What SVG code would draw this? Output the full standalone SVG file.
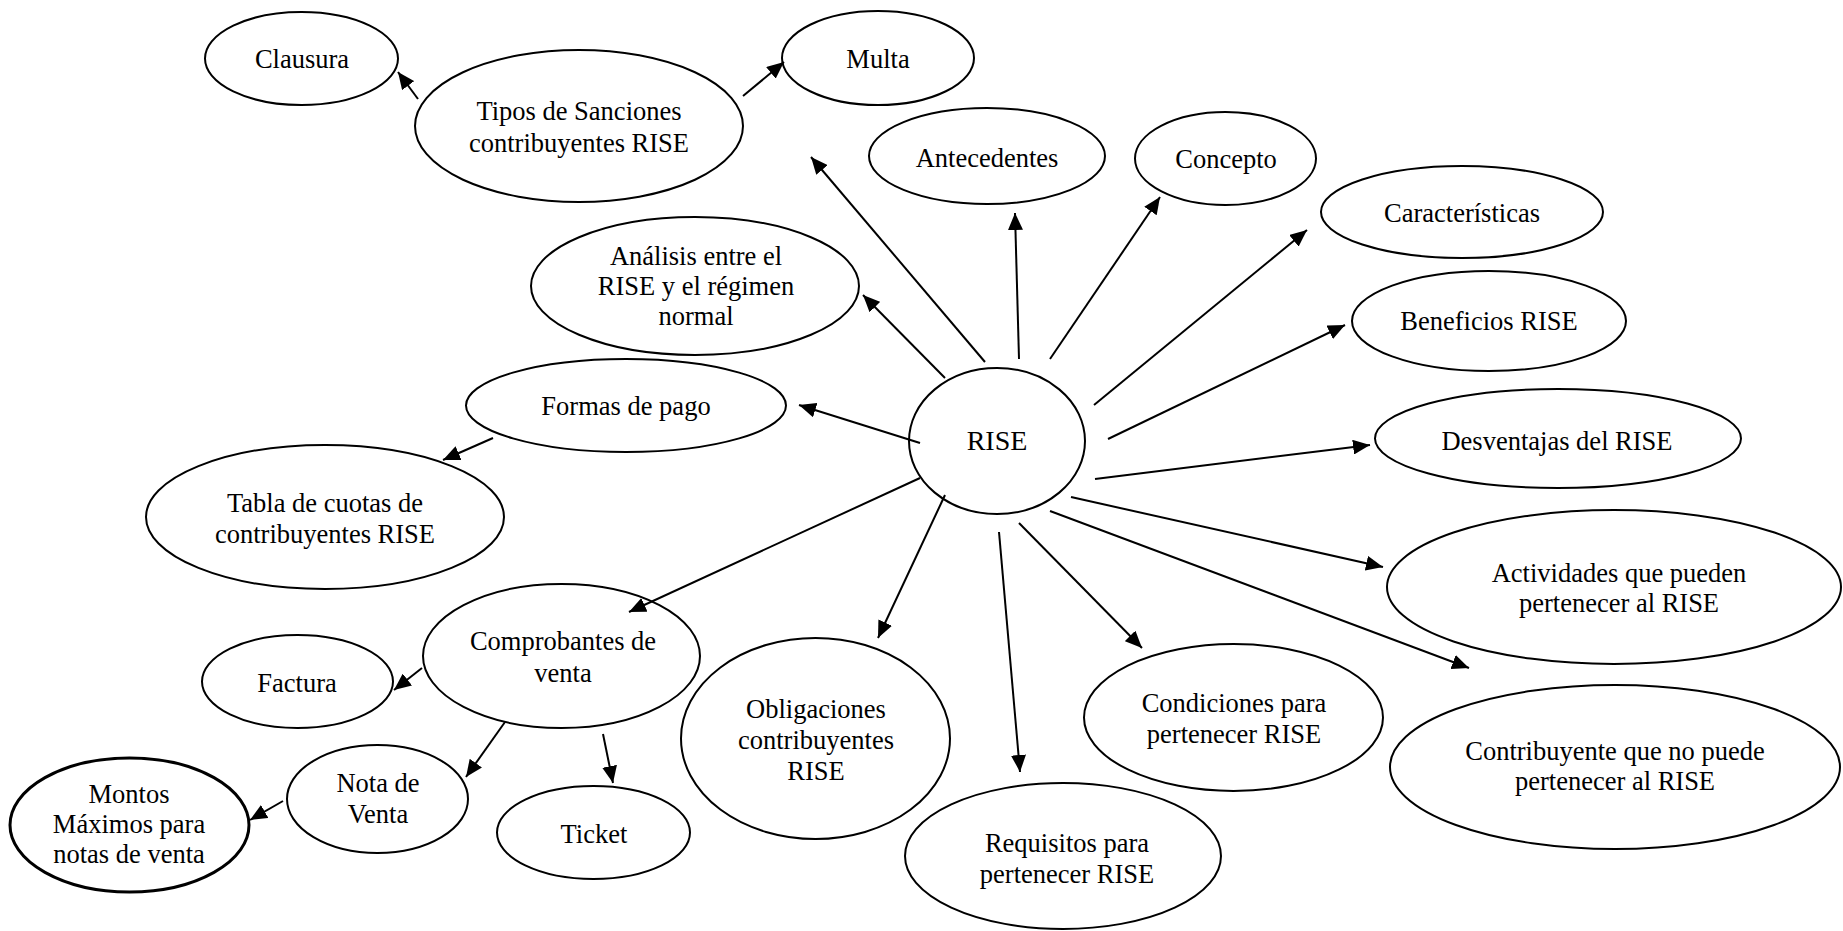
<svg xmlns="http://www.w3.org/2000/svg" width="1843" height="931" viewBox="0 0 1843 931">
<style>
.n ellipse{fill:#fff;stroke:#000;stroke-width:2}
.n text{font-family:"Liberation Serif","Times New Roman",serif;font-size:26.5px;fill:#000;text-anchor:middle}
#edges line{stroke:#000;stroke-width:2;marker-end:url(#ah)}
</style>
<defs>
<marker id="ah" markerUnits="userSpaceOnUse" markerWidth="17" markerHeight="15" refX="17" refY="7.5" orient="auto">
<path d="M0,0 L17,7.5 L0,15 z" fill="#000"/>
</marker>
</defs>
<rect width="1843" height="931" fill="#fff"/>
<g id="rise" class="n"><ellipse cx="997" cy="441" rx="88" ry="73"/><text x="997" y="450" style="font-size:28px">RISE</text></g>
<g id="tipos" class="n"><ellipse cx="579" cy="126" rx="164" ry="76"/><text x="579" y="120">Tipos de Sanciones</text><text x="579" y="152">contribuyentes RISE</text></g>
<g id="clausura" class="n"><ellipse cx="301.5" cy="58.5" rx="96.5" ry="46.5"/><text x="302" y="68">Clausura</text></g>
<g id="multa" class="n"><ellipse cx="878" cy="58" rx="96" ry="47"/><text x="878" y="68">Multa</text></g>
<g id="antecedentes" class="n"><ellipse cx="987" cy="156" rx="118" ry="48"/><text x="987" y="167">Antecedentes</text></g>
<g id="concepto" class="n"><ellipse cx="1225.5" cy="158.5" rx="90.5" ry="46.5"/><text x="1226" y="168">Concepto</text></g>
<g id="caracteristicas" class="n"><ellipse cx="1462" cy="212" rx="141" ry="46"/><text x="1462" y="222">Características</text></g>
<g id="analisis" class="n"><ellipse cx="695" cy="286" rx="164" ry="69"/><text x="696" y="265">Análisis entre el</text><text x="696" y="295">RISE y el régimen</text><text x="696" y="325">normal</text></g>
<g id="beneficios" class="n"><ellipse cx="1489" cy="321" rx="137" ry="50"/><text x="1489" y="330">Beneficios RISE</text></g>
<g id="formas" class="n"><ellipse cx="626" cy="405.5" rx="160" ry="46.5"/><text x="626" y="415">Formas de pago</text></g>
<g id="desventajas" class="n"><ellipse cx="1558" cy="438.5" rx="183" ry="49.5"/><text x="1557" y="450">Desventajas del RISE</text></g>
<g id="tabla" class="n"><ellipse cx="325" cy="517" rx="179" ry="72"/><text x="325" y="512">Tabla de cuotas de</text><text x="325" y="543">contribuyentes RISE</text></g>
<g id="actividades" class="n"><ellipse cx="1614" cy="587" rx="227" ry="77"/><text x="1619" y="582">Actividades que pueden</text><text x="1619" y="612">pertenecer al RISE</text></g>
<g id="comprobantes" class="n"><ellipse cx="561.5" cy="656" rx="138.5" ry="72"/><text x="563" y="650">Comprobantes de</text><text x="563" y="682">venta</text></g>
<g id="factura" class="n"><ellipse cx="297.5" cy="681.5" rx="95.5" ry="46.5"/><text x="297" y="692">Factura</text></g>
<g id="obligaciones" class="n"><ellipse cx="815.5" cy="738.5" rx="134.5" ry="100.5"/><text x="816" y="718">Obligaciones</text><text x="816" y="749">contribuyentes</text><text x="816" y="780">RISE</text></g>
<g id="condiciones" class="n"><ellipse cx="1233.5" cy="717.5" rx="149.5" ry="73.5"/><text x="1234" y="712">Condiciones para</text><text x="1234" y="743">pertenecer RISE</text></g>
<g id="contribuyente" class="n"><ellipse cx="1615" cy="767" rx="225" ry="82"/><text x="1615" y="760">Contribuyente que no puede</text><text x="1615" y="790">pertenecer al RISE</text></g>
<g id="nota" class="n"><ellipse cx="377.5" cy="799" rx="90.5" ry="54"/><text x="378" y="792">Nota de</text><text x="378" y="823">Venta</text></g>
<g id="ticket" class="n"><ellipse cx="593.5" cy="832.5" rx="96.5" ry="46.5"/><text x="594" y="843">Ticket</text></g>
<g id="montos" class="n"><ellipse cx="129.5" cy="825" rx="119.5" ry="67" style="stroke-width:3"/><text x="129" y="803">Montos</text><text x="129" y="833">Máximos para</text><text x="129" y="863">notas de venta</text></g>
<g id="requisitos" class="n"><ellipse cx="1063" cy="856" rx="158" ry="73"/><text x="1067" y="852">Requisitos para</text><text x="1067" y="883">pertenecer RISE</text></g>
<g id="edges">
<line x1="985" y1="362" x2="811" y2="157"/>
<line x1="945" y1="378" x2="863" y2="295"/>
<line x1="920" y1="443" x2="799" y2="405"/>
<line x1="493" y1="438" x2="443" y2="460"/>
<line x1="418" y1="99" x2="398" y2="72"/>
<line x1="743" y1="96" x2="784" y2="62"/>
<line x1="1019" y1="359" x2="1015" y2="213"/>
<line x1="1050" y1="359" x2="1160" y2="197"/>
<line x1="1094" y1="405" x2="1307" y2="230"/>
<line x1="1108" y1="439" x2="1345" y2="325"/>
<line x1="1095" y1="479" x2="1370" y2="445"/>
<line x1="1071" y1="497" x2="1383" y2="567"/>
<line x1="1050" y1="511" x2="1469" y2="668"/>
<line x1="1019" y1="523" x2="1142" y2="648"/>
<line x1="999" y1="532" x2="1020" y2="772"/>
<line x1="945" y1="495" x2="878" y2="638"/>
<line x1="920" y1="478" x2="629" y2="612"/>
<line x1="422" y1="668" x2="394" y2="690"/>
<line x1="505" y1="722" x2="466" y2="777"/>
<line x1="603" y1="734" x2="613" y2="783"/>
<line x1="283" y1="801" x2="250" y2="820"/>
</g>
</svg>
